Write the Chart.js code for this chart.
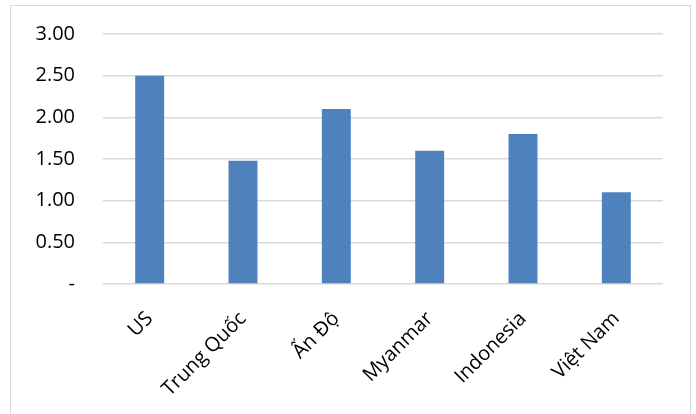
<!DOCTYPE html>
<html><head><meta charset="utf-8">
<script src="https://cdn.jsdelivr.net/npm/chart.js@4"></script>
<style>
html,body{margin:0;padding:0;background:#fff;}
#wrap{position:relative;width:696px;height:414px;overflow:hidden;}
#frame{position:absolute;left:10px;top:5px;width:681px;height:430px;border:1px solid #d9d9d9;box-sizing:border-box;}
canvas{position:absolute;left:0;top:0;}
</style></head>
<body>
<div id="wrap"><div id="frame"></div><canvas id="c" width="696" height="414"></canvas></div>
<script>
const categories = ['US', 'Trung Quốc', 'Ấn Độ', 'Myanmar', 'Indonesia', 'Việt Nam'];
const values = [2.50, 1.48, 2.10, 1.60, 1.80, 1.10];
const yTicks = [0, 0.5, 1, 1.5, 2, 2.5, 3];

const FONT = "'Open Sans', sans-serif";
new Chart(document.getElementById('c'), {
  type: 'bar',
  data: {
    labels: categories,
    datasets: [{
      data: values,
      backgroundColor: '#4F81BD',
      borderWidth: 0,
      barPercentage: 0.31,
      categoryPercentage: 1.0
    }]
  },
  options: {
    responsive: false,
    animation: false,
    layout: { padding: { left: 0, right: 33, top: 34, bottom: 0 } },
    plugins: { legend: { display: false }, tooltip: { enabled: false } },
    scales: {
      x: {
        grid: { display: false },
        border: { display: false },
        ticks: {
          minRotation: 45, maxRotation: 45,
          color: '#000',
          font: { family: FONT, size: 20 },
          padding: 15
        },
        afterFit: s => { s.height = 130; s.paddingLeft = 0; s.paddingRight = 0; }
      },
      y: {
        min: 0, max: 3,
        afterBuildTicks: s => { s.ticks = yTicks.map(v => ({ value: v })); },
        grid: { color: '#d9d9d9', lineWidth: 1.5, drawTicks: false },
        border: { display: false },
        ticks: {
          color: '#000',
          padding: 28,
          font: { family: FONT, size: 20 },
          callback: v => v === 0 ? '-' : Number(v).toFixed(2)
        },
        afterFit: s => { s.width = 103; s.paddingTop = 0; s.paddingBottom = 0; }
      }
    }
  }
});
</script>
</body></html>
